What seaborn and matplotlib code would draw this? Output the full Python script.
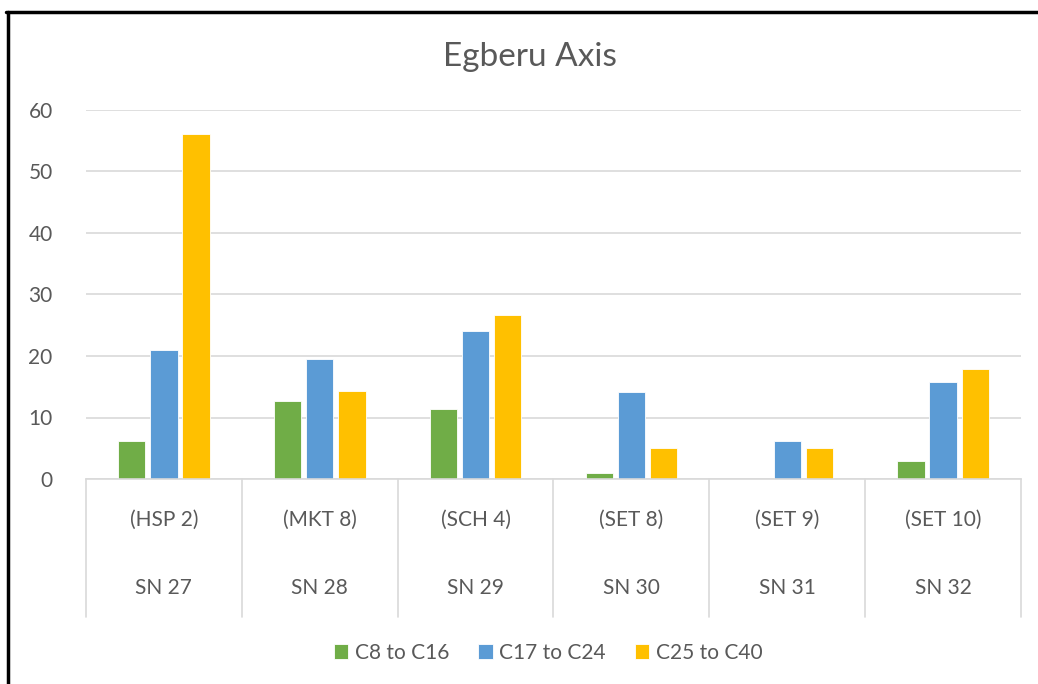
import pandas as pd
import matplotlib.pyplot as plt
import seaborn as sns
from matplotlib.lines import Line2D

sites = ['(HSP 2)', '(MKT 8)', '(SCH 4)', '(SET 8)', '(SET 9)', '(SET 10)']
sample_ids = ['SN 27', 'SN 28', 'SN 29', 'SN 30', 'SN 31', 'SN 32']
fractions = ['C8 to C16', 'C17 to C24', 'C25 to C40']
c8_c16 = [6.2, 12.7, 11.4, 0.9, 0.0, 2.9]
c17_c24 = [20.9, 19.5, 24.1, 14.1, 6.2, 15.7]
c25_c40 = [56.1, 14.3, 26.6, 5.0, 5.0, 17.9]
colors = ['#70AD47', '#5B9BD5', '#FFC000']

df = pd.DataFrame({'site': sites, 'C8 to C16': c8_c16,
                   'C17 to C24': c17_c24, 'C25 to C40': c25_c40})
df_long = df.melt(id_vars='site', var_name='fraction', value_name='value')

sns.set_style('white')
plt.rcParams['font.family'] = ['Lato', 'DejaVu Sans']
text_col = '#595959'
line_col = '#D9D9D9'

W, H = 1038, 684
fig = plt.figure(figsize=(W / 100, H / 100), dpi=100)
ax = fig.add_axes([86 / W, 205 / H, 935 / W, 369 / H])

sns.barplot(data=df_long, x='site', y='value', hue='fraction', hue_order=fractions,
            palette=colors, saturation=1, width=0.62, gap=0.15, edgecolor='white',
            linewidth=0.6, ax=ax)

ax.set_ylim(0, 60)
ax.set_xlim(-0.5, len(sites) - 0.5)
ax.set_yticks(range(0, 61, 10))
ax.yaxis.grid(True, color=line_col, lw=1.2)
ax.set_axisbelow(True)
for s in ['top', 'right', 'left']:
    ax.spines[s].set_visible(False)
ax.spines['bottom'].set_color(line_col)
ax.spines['bottom'].set_linewidth(1.2)
ax.tick_params(axis='y', length=0, pad=24, labelsize=15, labelcolor=text_col)
ax.tick_params(axis='x', length=0, labelbottom=False)
ax.set_xlabel('')
ax.set_ylabel('')

# two level category axis
trans = ax.get_xaxis_transform()
for i in range(len(sites) + 1):
    ax.plot([i - 0.5, i - 0.5], [0, -0.373], transform=trans, color=line_col,
            lw=1.2, clip_on=False)
for i, (site, sid) in enumerate(zip(sites, sample_ids)):
    ax.text(i, -0.111, site, transform=trans, ha='center', va='center',
            fontsize=15, color=text_col)
    ax.text(i, -0.295, sid, transform=trans, ha='center', va='center',
            fontsize=15, color=text_col)

handles, labels = ax.get_legend_handles_labels()
ax.get_legend().remove()
fig.legend(handles, labels, loc='center', bbox_to_anchor=(548 / W, 1 - 653 / H),
           ncol=3, frameon=False, fontsize=15, handlelength=0.7, handleheight=0.7,
           handletextpad=0.3, columnspacing=1.4, labelcolor=text_col)

fig.text(530 / W, 1 - 57 / H, 'Egberu Axis', ha='center', va='center',
         fontsize=24, color=text_col)

# black frame on left and top
fig.add_artist(Line2D([7.5 / W, 7.5 / W], [0, 1 - 12 / H], color='black', lw=2.5))
fig.add_artist(Line2D([6 / W, 1], [1 - 12 / H, 1 - 12 / H], color='black', lw=2.5))

fig.savefig('out.png', dpi=100)
